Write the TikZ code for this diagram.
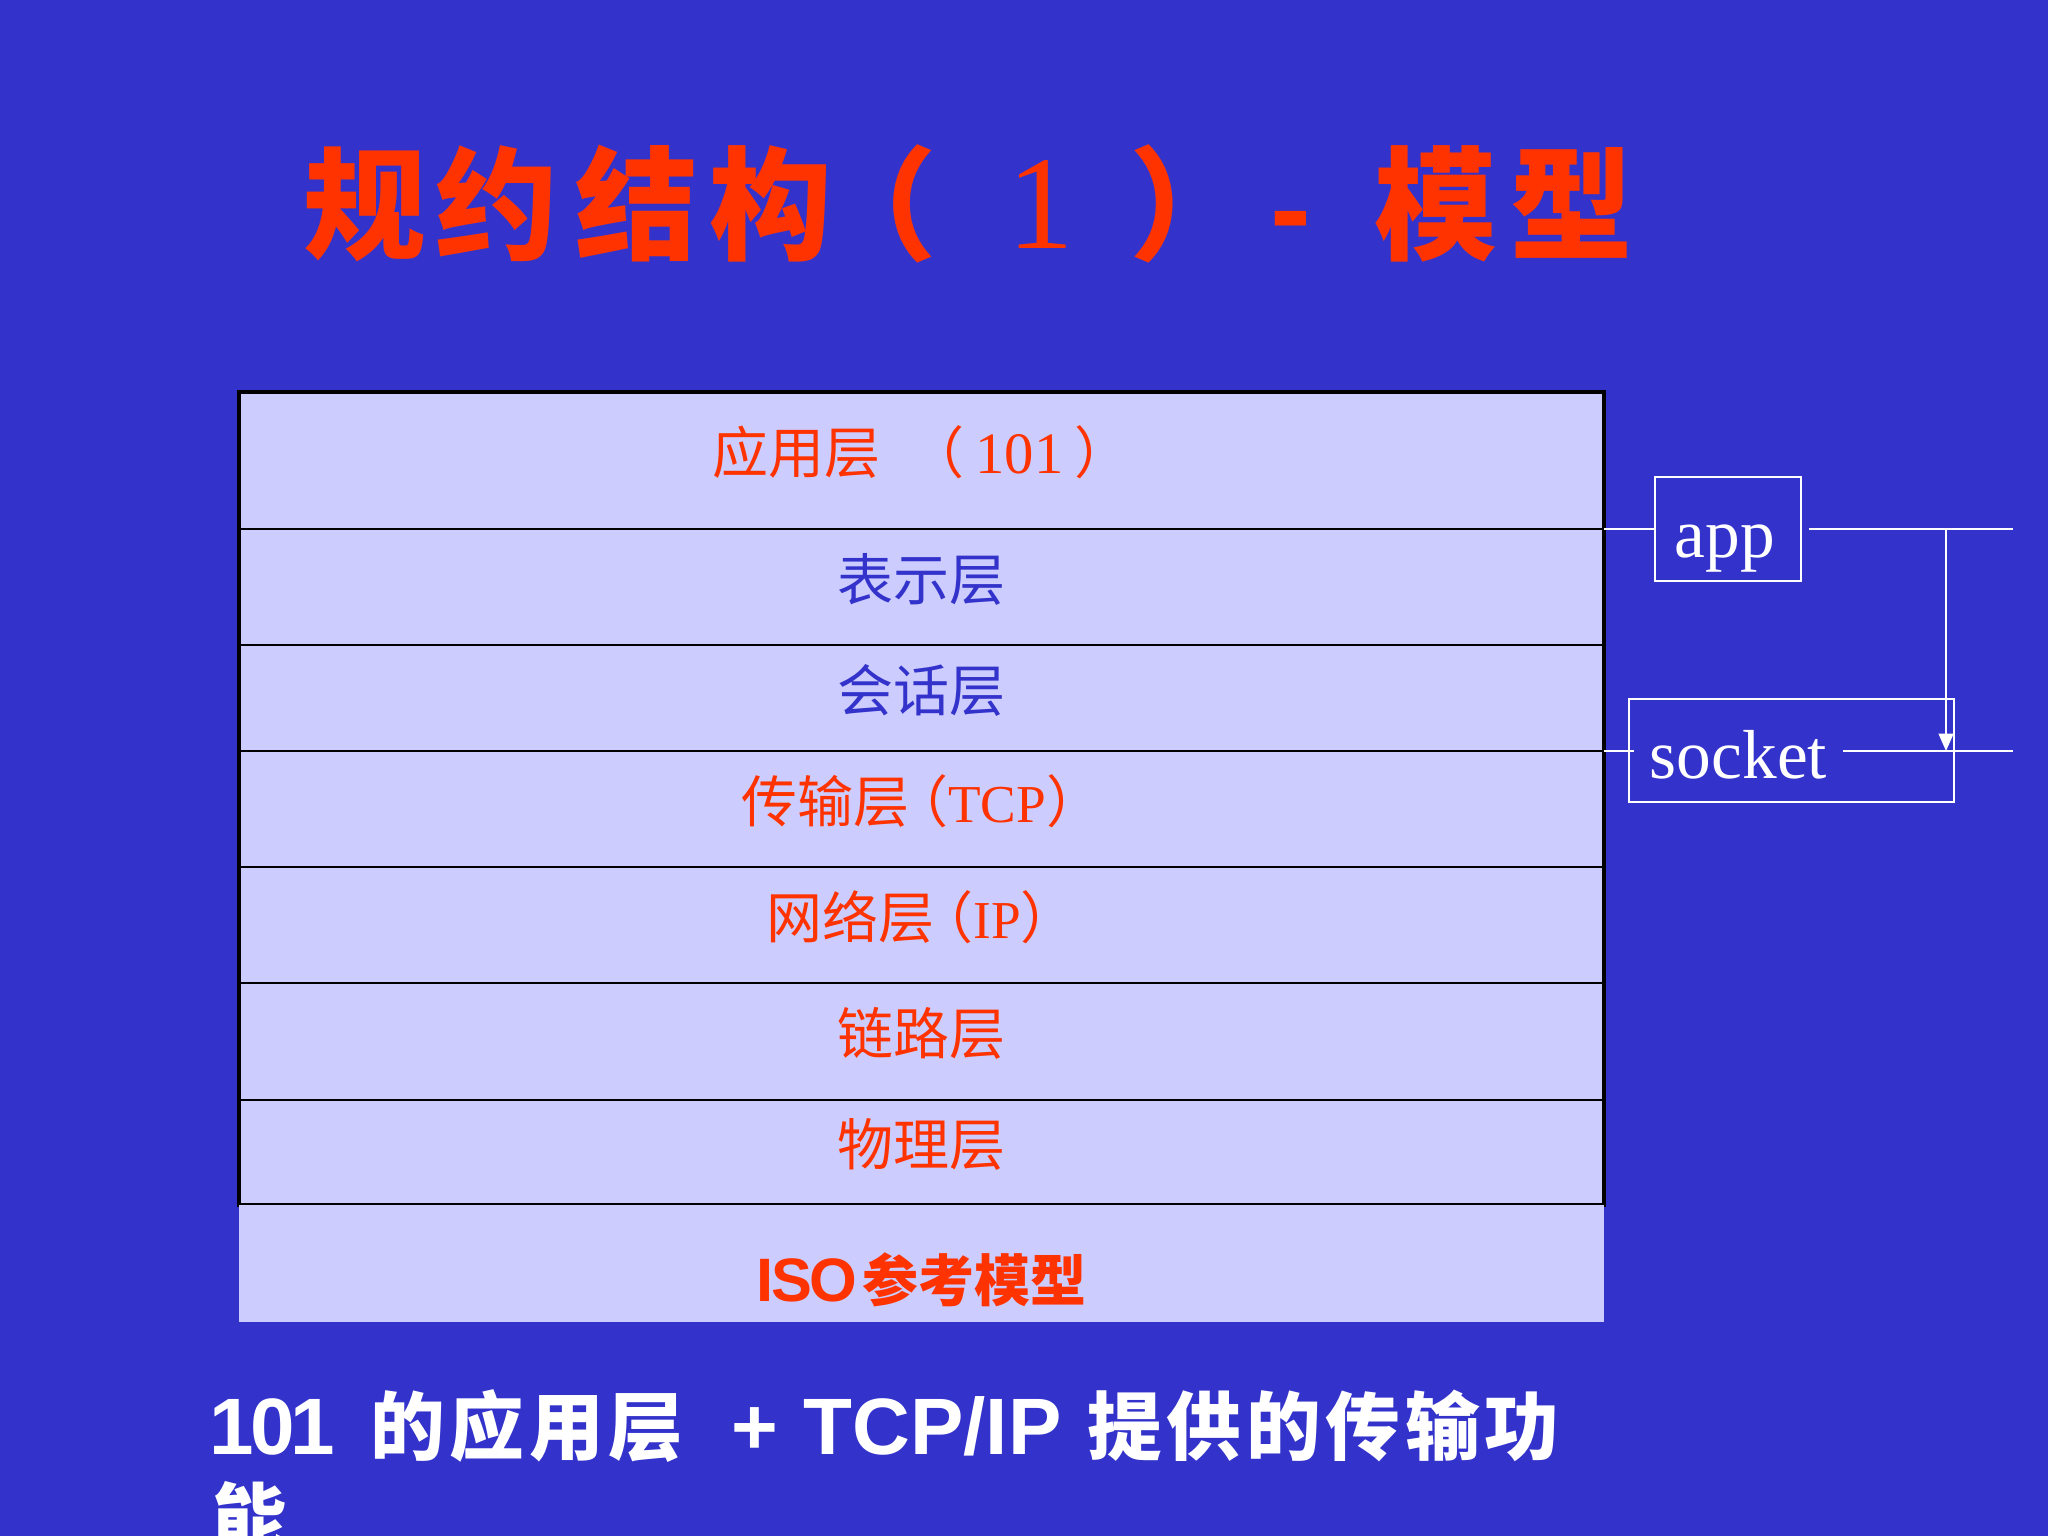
\documentclass[tikz,border=0pt]{standalone}
\usepackage{fontspec}
\setmainfont{Liberation Serif}
\setsansfont{Liberation Sans}
\newfontfamily\cjk{Noto Sans CJK SC}
\usetikzlibrary{arrows.meta}
\definecolor{bg}{RGB}{51,51,204}
\definecolor{lav}{RGB}{204,204,255}
\definecolor{rd}{RGB}{255,51,0}
\definecolor{bl}{RGB}{51,51,204}
\newcommand\ks{\hspace{1.8pt}}
\begin{document}
\begin{tikzpicture}[x=0.375pt,y=-0.375pt,
  layer/.style={draw=black,line width=1pt,fill=lav,outer sep=0pt,inner sep=0pt,
    minimum width=511.875pt,anchor=north west,
    font=\cjk\fontsize{21pt}{25pt}\selectfont,text height=12pt,text depth=2pt},
  isobox/.style={fill=lav,outer sep=0pt,inner sep=0pt,minimum width=511.875pt,
    minimum height=43.875pt,anchor=north west,text=rd,text height=30pt,text depth=1.6pt},
  ttl/.style={anchor=base,text=rd,inner sep=0pt,font=\cjk\bfseries\fontsize{46pt}{50pt}\selectfont},
  wline/.style={draw=white,line width=0.8pt},
  wbox/.style={draw=white,line width=0.8pt,inner sep=0pt,outer sep=0pt},
  wlabel/.style={anchor=base,text=white,font=\rmfamily\fontsize{26pt}{30pt}\selectfont},
  btxt/.style={anchor=base west,inner sep=0pt,text=white},
  blat/.style={btxt,font=\sffamily\bfseries\fontsize{30pt}{34pt}\selectfont},
  bcjk/.style={btxt,font=\cjk\bfseries\fontsize{28pt}{32pt}\selectfont}
]
\useasboundingbox (0,0) rectangle (2048,1536);
\fill[bg] (0,0) rectangle (2048,1536);

% title
\foreach \cx/\ch [count=\i] in {365/规,497/约,637/结,771/构,1436/模,1572/型}
  \node[ttl] (t\i) at (\cx,250) {\ch};
\node[ttl] (tpl) at (876,250) {（};
\node[ttl,font=\rmfamily\fontsize{50pt}{54pt}\selectfont] (tone) at (1041,248) {1};
\node[ttl] (tpr) at (1191,250) {）};
\node[ttl,font=\sffamily\bfseries\fontsize{46pt}{50pt}\selectfont] (tdash) at (1291,250) {-};

% layers
\node[layer,minimum height=51.375pt,text=rd] (L1) at (239,392)
  {应用层\hspace{0.5em}（\hspace{4pt}{\rmfamily\fontsize{22pt}{25pt}\selectfont 101}\hspace{4pt}）};
\node[layer,minimum height=43.5pt,text=bl] (L2) at (239,529) {表示层};
\node[layer,minimum height=39.75pt,text=bl] (L3) at (239,645) {会话层};
\node[layer,minimum height=43.5pt,text=rd] (L4) at (239,751)
  {传输层\hspace{-0.3em}（{\rmfamily\fontsize{20pt}{25pt}\selectfont TCP}）\hspace{-0.3em}};
\node[layer,minimum height=43.5pt,text=rd] (L5) at (239,867)
  {网络层\hspace{-0.3em}（{\rmfamily\fontsize{20pt}{25pt}\selectfont IP}）\hspace{-0.3em}};
\node[layer,minimum height=43.875pt,text=rd] (L6) at (239,983) {链路层};
\node[layer,minimum height=39.375pt,text=rd] (L7) at (239,1100) {物理层};
\draw[line width=1.6pt] (L1.north west) rectangle (L7.south east);

\node[isobox] (iso) at (239,1205)
  {{\sffamily\bfseries\fontsize{23pt}{25pt}\selectfont I\hspace{-1pt}S\hspace{-1pt}O}\hspace{2pt}{\cjk\bfseries\fontsize{21pt}{25pt}\selectfont 参考模型}};

% app / socket
\coordinate (r1) at (2013,529);
\coordinate (r2) at (2013,751);
\coordinate (j1) at (1946,529);
\coordinate (j2) at (1946,751);
\node[wbox,minimum width=54.75pt,minimum height=39pt] (appbox) at (1728,529) {};
\node[wlabel] (applabel) at (1725,557) {app};
\draw[wline] (L1.south east) -- (appbox.west);
\draw[wline] ([xshift=3pt]appbox.east) -- (r1);
\draw[wline] (L3.south east) -- (r2);
\node[wbox,minimum width=121.9pt,minimum height=38.6pt] (sockbox) at (1791.5,750.5) {};
\node[wlabel,fill=bg,inner xsep=6pt,inner ysep=2pt] (socklabel) at (1738.5,778) {socket};
\draw[wline,-{Triangle[length=6.5pt,width=5.5pt]}] (j1) -- (j2);

% bottom text
\node[blat] (b1) at (209,1454) {1\hspace{-1.5pt}0\hspace{-1.5pt}1};
\node[bcjk] (b2) at (370,1454) {的\ks 应\ks 用\ks 层};
\node[blat] (b3) at (731,1454) {+};
\node[blat] (b4) at (803,1454) {TCP/IP};
\node[bcjk] (b5) at (1087,1454) {提\ks 供\ks 的\ks 传\ks 输\ks 功};
\node[bcjk] (b6) at (212,1545) {能};
\end{tikzpicture}
\end{document}
